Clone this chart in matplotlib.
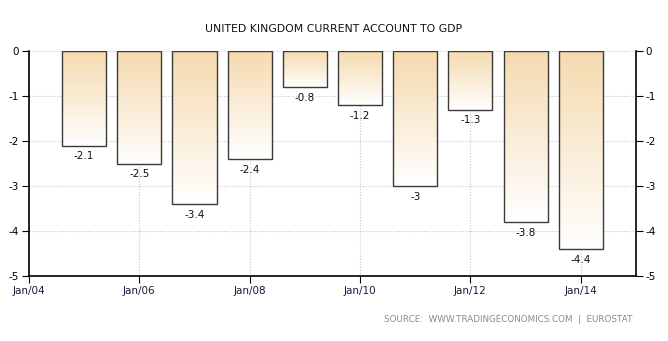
import matplotlib
matplotlib.use("Agg")
import matplotlib.pyplot as plt
import numpy as np
from matplotlib.colors import LinearSegmentedColormap

# UK current account to GDP (%), annual
years = [2005, 2006, 2007, 2008, 2009, 2010, 2011, 2012, 2013, 2014]
values = [-2.1, -2.5, -3.4, -2.4, -0.8, -1.2, -3.0, -1.3, -3.8, -4.4]
labels = ["-2.1", "-2.5", "-3.4", "-2.4", "-0.8", "-1.2", "-3", "-1.3", "-3.8", "-4.4"]
tick_years = [2004, 2006, 2008, 2010, 2012, 2014]
tick_labels = ["Jan/04", "Jan/06", "Jan/08", "Jan/10", "Jan/12", "Jan/14"]

fig = plt.figure(figsize=(6.68, 3.41), dpi=100)
ax = fig.add_axes([0.0434, 0.1906, 0.9086, 0.6598])

cmap = LinearSegmentedColormap.from_list("tan", ["#F5DAAE", "#FFFFFF"])
grad = np.linspace(0, 1, 256).reshape(-1, 1)

bars = ax.bar(years, values, width=0.8, color="none", edgecolor="#3a3a3a",
              linewidth=1.0, zorder=3)
for b, lab in zip(bars, labels):
    x0 = b.get_x()
    w = b.get_width()
    h = b.get_height()
    ax.imshow(grad, cmap=cmap, aspect="auto", extent=[x0, x0 + w, h, 0],
              zorder=2, interpolation="bicubic")
    ax.text(x0 + w / 2, h - 0.13, lab, ha="center", va="top", fontsize=7.5,
            color="#111111", zorder=4)

ax.set_xlim(2004, 2015)
ax.set_ylim(-5, 0)
ax.set_xticks(tick_years)
ax.set_xticklabels(tick_labels, fontsize=7.5, color="#1a1a3a")
ax.set_yticks([0, -1, -2, -3, -4, -5])
ax.set_yticklabels(["0", "-1", "-2", "-3", "-4", "-5"])
ax.tick_params(axis="y", labelsize=7.5, length=5, direction="out",
               left=True, right=True, labelleft=True, labelright=True, pad=2)
ax.tick_params(axis="x", length=5, direction="out", pad=2)
ax.grid(True, color="#c8c8c8", linestyle=(0, (1, 1.5)), linewidth=0.8, zorder=0)
ax.set_axisbelow(True)

ax.spines["top"].set_visible(False)
for s in ["left", "right", "bottom"]:
    ax.spines[s].set_linewidth(1.2)
    ax.spines[s].set_color("black")

fig.text(0.5, 0.915, "UNITED KINGDOM CURRENT ACCOUNT TO GDP", ha="center",
         va="center", fontsize=7.8, color="#111111")
fig.text(0.947, 0.063, "SOURCE:  WWW.TRADINGECONOMICS.COM  |  EUROSTAT",
         ha="right", va="center", fontsize=6.3, color="#8a8a8a")

fig.savefig("out.png", dpi=100)
